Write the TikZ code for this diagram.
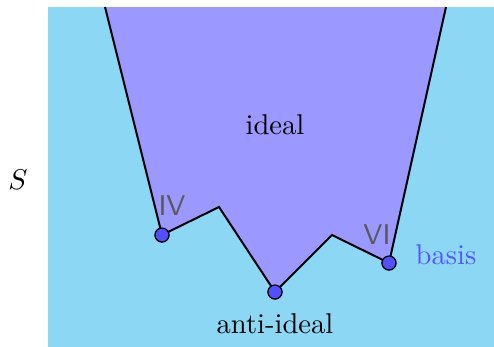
\documentclass[tikz,border=0pt]{standalone}
\begin{document}
\begin{tikzpicture}[x=0.35pt,y=-0.35pt,
  region/.style={fill=skyb,draw=none},
  edge/.style={line width=0.7pt,line join=miter},
  dot/.style={circle,fill=dotb,draw=black,line width=0.4pt,minimum size=4.9pt,inner sep=0pt},
  lab/.style={font=\sffamily\normalsize,text=black!65},
  txt/.style={font=\normalsize}]
\definecolor{skyb}{HTML}{8CD8F4}
\definecolor{idealp}{HTML}{9B99FF}
\definecolor{dotb}{HTML}{5050FF}
\definecolor{basisc}{HTML}{5555FF}
\useasboundingbox (0,0) rectangle (494,347);
\fill[skyb] (48,7) rectangle (494,347);
\coordinate (tl) at (105,7);
\coordinate (c1) at (219,207);
\coordinate (c2) at (332,235);
\coordinate (tr) at (446,7);
\node[dot] (b1) at (162,235) {};
\node[dot] (b2) at (275,292) {};
\node[dot] (b3) at (389,263) {};
\fill[idealp] (tl) -- (b1.center) -- (c1) -- (b2.center) -- (c2) -- (b3.center) -- (tr) -- cycle;
\draw[edge] (tl) -- (b1.center) -- (c1) -- (b2.center) -- (c2) -- (b3.center) -- (tr);
\node[dot] at (b1) {};
\node[dot] at (b2) {};
\node[dot] at (b3) {};
\node[txt] (ideal) at (275,125) {ideal};
\node[txt] (anti) at (275,324) {anti-ideal};
\node[txt] (S) at (18,180) {$S$};
\node[txt,text=basisc] (basis) at (446,255) {basis};
\node[lab] (iv) at (172,206) {IV};
\node[lab] (vi) at (377,235) {VI};
\end{tikzpicture}
\end{document}
